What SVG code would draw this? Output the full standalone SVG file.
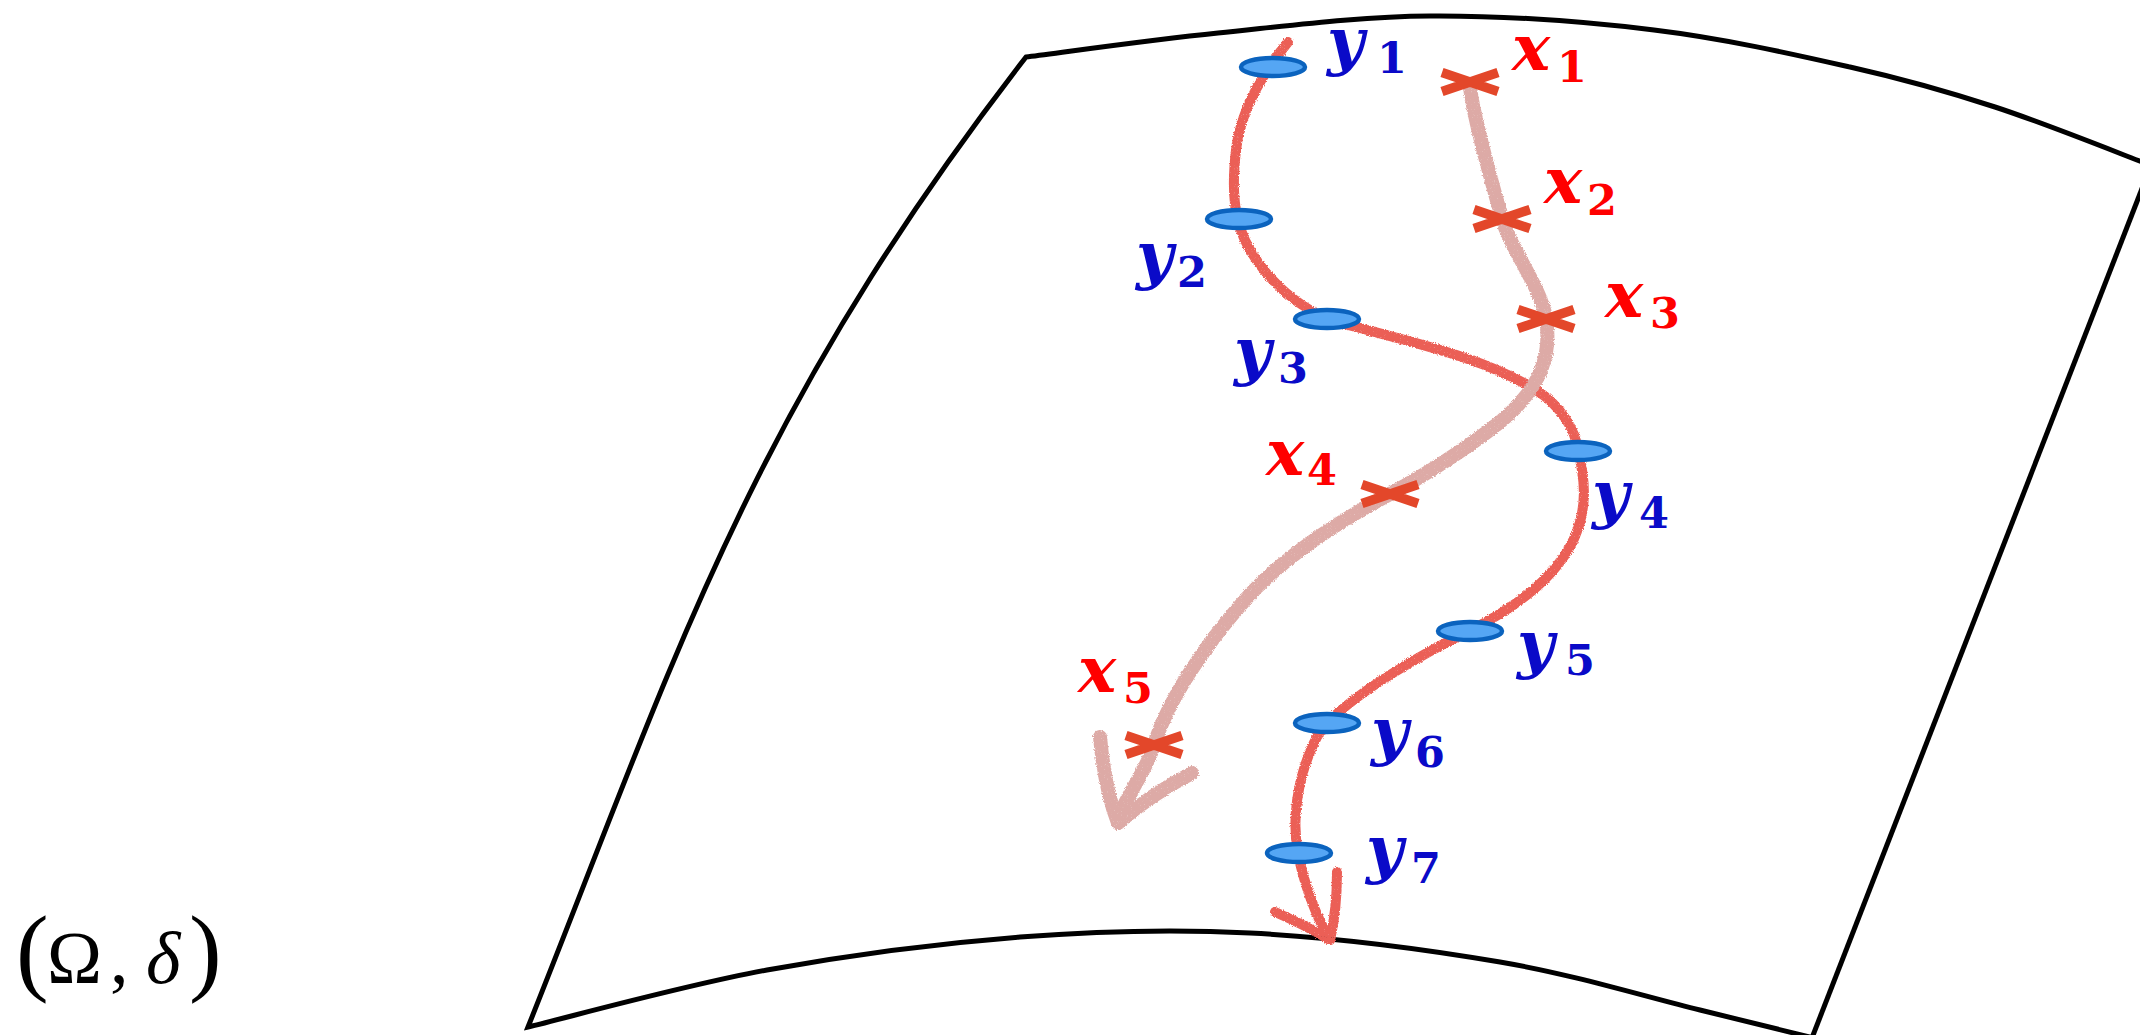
<svg xmlns="http://www.w3.org/2000/svg" xmlns:xlink="http://www.w3.org/1999/xlink" width="2140" height="1035" viewBox="0 0 2140 1035">
<style>
.edge{fill:none;stroke:#000;stroke-width:5;stroke-linejoin:miter}
.ypath{fill:none;stroke:#EB5F57;stroke-width:10;stroke-linecap:round;stroke-linejoin:round}
.xpath{fill:none;stroke:#DDAAA6;stroke-width:14;stroke-linecap:round;stroke-linejoin:round}
.pt{fill:#55A6F4;stroke:#0B63BE;stroke-width:4.5}
.cross{fill:none;stroke:#E3472A;stroke-width:9.5}
.ly{fill:#0A0AC8;font-family:"DejaVu Serif","Liberation Serif",serif;font-weight:bold}
.lx{fill:#FF0000;font-family:"DejaVu Serif","Liberation Serif",serif;font-weight:bold}
.let{font-style:italic;font-size:64px}
.sub{font-style:normal;font-size:43px}
.omega{fill:#000;font-family:"Liberation Serif","DejaVu Serif",serif}
</style>
<defs>
<filter id="crayon" filterUnits="userSpaceOnUse" x="0" y="0" width="2140" height="1035">
<feTurbulence type="fractalNoise" baseFrequency="0.9" numOctaves="2" seed="4" result="n"/>
<feDisplacementMap in="SourceGraphic" in2="n" scale="3.5" xChannelSelector="R" yChannelSelector="G" result="d"/>
<feTurbulence type="fractalNoise" baseFrequency="1.3" numOctaves="1" seed="9" result="n2"/>
<feColorMatrix in="n2" type="matrix" values="0 0 0 0 0  0 0 0 0 0  0 0 0 0 0  -2 0 0 0 2.3" result="m"/>
<feComposite in="d" in2="m" operator="in"/>
</filter>
<path id="xm" d="M-28,-9.5 L28,9.5 M-28,9.5 L28,-9.5"/>
</defs>
<rect width="2140" height="1035" fill="#fff"/>
<g id="surface">
<path class="edge" d="M2157,150 L1810,1043"/>
<path class="edge" d="M2150,165 C2124.2,155.3 2045,123.3 1995,107 C1945,90.7 1906.8,79.8 1850,67 C1793.2,54.2 1724,38.5 1654,30 C1584,21.5 1502.7,15.5 1430,16 C1357.3,16.5 1285.3,26.2 1218,33 C1150.7,39.8 1058,53 1026,57 C747,417 672,667 528,1027 C567.8,1017.5 685,985 767,970 C849,955 939.5,943.2 1020,937 C1100.5,930.8 1170,928.8 1250,933 C1330,937.2 1425,949.2 1500,962 C1575,974.8 1645,996.7 1700,1010 C1755,1023.3 1808.3,1036.7 1830,1042"/>
</g>
<g id="connectors" filter="url(#crayon)">
<g id="y-trajectory">
<path class="ypath" d="M1288,42 C1265,70 1240,110 1236,150 C1232,185 1234,205 1238,219 C1244,250 1275,295 1327,319 C1400,340 1480,355 1536,390 C1560,405 1576,430 1578,451 C1592,505 1590,570 1469,631 C1420,655 1360,690 1327,723 C1310,740 1288,800 1298,853 C1303,880 1315,915 1330,940"/>
<path class="ypath" d="M1275,912 Q1305,925 1330,940 M1337,872 Q1337,910 1330,940"/>
</g>
<g id="x-trajectory">
<path class="xpath" d="M1470,87 C1474,120 1490,175 1502,219 C1510,248 1540,285 1546,318 C1551,350 1545,385 1500,422 C1465,450 1420,478 1390,494 C1345,518 1285,555 1245,600 C1205,645 1168,700 1154,745 C1145,775 1122,800 1118,823"/>
<path class="xpath" d="M1100,737 Q1105,790 1118,823 M1192,773 Q1150,795 1118,823"/>
</g>
</g>
<g id="y1"><ellipse class="pt" cx="1273" cy="67" rx="32" ry="9"/><text class="ly"><tspan class="let" x="1327" y="63">y</tspan><tspan class="sub" x="1377" y="73">1</tspan></text></g>
<g id="y2"><ellipse class="pt" cx="1239" cy="219" rx="32" ry="9"/><text class="ly"><tspan class="let" x="1136" y="277">y</tspan><tspan class="sub" x="1177" y="287">2</tspan></text></g>
<g id="y3"><ellipse class="pt" cx="1327" cy="319" rx="32" ry="9"/><text class="ly"><tspan class="let" x="1234" y="373">y</tspan><tspan class="sub" x="1278" y="383">3</tspan></text></g>
<g id="y4"><ellipse class="pt" cx="1578" cy="451" rx="32" ry="9"/><text class="ly"><tspan class="let" x="1592" y="516">y</tspan><tspan class="sub" x="1639" y="528">4</tspan></text></g>
<g id="y5"><ellipse class="pt" cx="1470" cy="631" rx="32" ry="9"/><text class="ly"><tspan class="let" x="1517" y="666">y</tspan><tspan class="sub" x="1565" y="675">5</tspan></text></g>
<g id="y6"><ellipse class="pt" cx="1327" cy="723" rx="32" ry="9"/><text class="ly"><tspan class="let" x="1371" y="753">y</tspan><tspan class="sub" x="1415" y="767">6</tspan></text></g>
<g id="y7"><ellipse class="pt" cx="1299" cy="853" rx="32" ry="9"/><text class="ly"><tspan class="let" x="1366" y="871">y</tspan><tspan class="sub" x="1411" y="883">7</tspan></text></g>
<g id="x1"><use href="#xm" xlink:href="#xm" class="cross" x="1470" y="82"/><text class="lx"><tspan class="let" x="1512" y="70">x</tspan><tspan class="sub" x="1557" y="82">1</tspan></text></g>
<g id="x2"><use href="#xm" xlink:href="#xm" class="cross" x="1502" y="219"/><text class="lx"><tspan class="let" x="1544" y="203">x</tspan><tspan class="sub" x="1587" y="215">2</tspan></text></g>
<g id="x3"><use href="#xm" xlink:href="#xm" class="cross" x="1546" y="319"/><text class="lx"><tspan class="let" x="1605" y="317">x</tspan><tspan class="sub" x="1650" y="328">3</tspan></text></g>
<g id="x4"><use href="#xm" xlink:href="#xm" class="cross" x="1390" y="494"/><text class="lx"><tspan class="let" x="1266" y="475">x</tspan><tspan class="sub" x="1307" y="485">4</tspan></text></g>
<g id="x5"><use href="#xm" xlink:href="#xm" class="cross" x="1154" y="745"/><text class="lx"><tspan class="let" x="1078" y="692">x</tspan><tspan class="sub" x="1123" y="703">5</tspan></text></g>
<g id="space-label"><text class="omega" y="983"><tspan x="16" font-size="98">(</tspan><tspan x="47" font-size="74">Ω</tspan><tspan x="110" font-size="74">,</tspan><tspan x="146" font-size="74" font-style="italic">δ</tspan><tspan x="189" font-size="98">)</tspan></text></g>
</svg>
